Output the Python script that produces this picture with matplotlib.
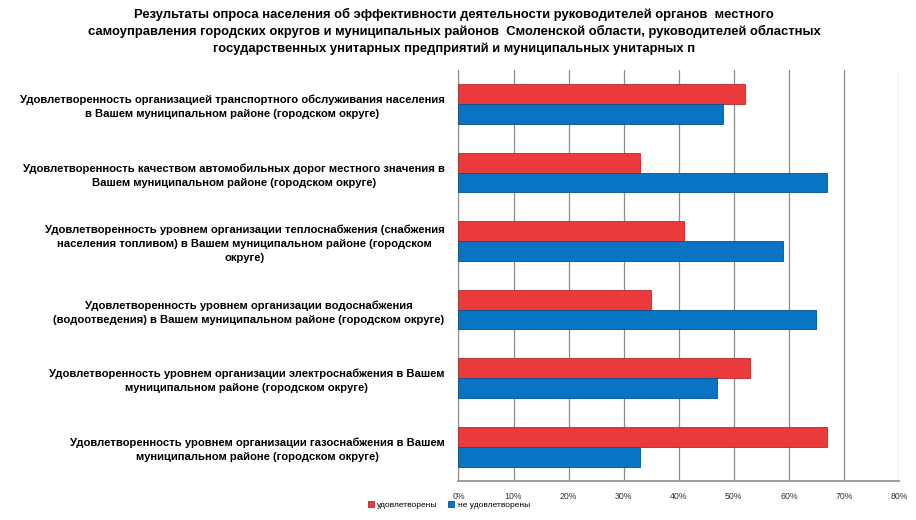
import numpy as np
import matplotlib.pyplot as plt

# Survey categories (top to bottom)
categories = [
    "Удовлетворенность организацией транспортного обслуживания населения\nв Вашем муниципальном районе (городском округе)",
    "Удовлетворенность качеством автомобильных дорог местного значения в\nВашем муниципальном районе (городском округе)",
    "Удовлетворенность уровнем организации теплоснабжения (снабжения\nнаселения топливом) в Вашем муниципальном районе (городском\nокруге)",
    "Удовлетворенность уровнем организации водоснабжения\n(водоотведения) в Вашем муниципальном районе (городском округе)",
    "Удовлетворенность уровнем организации электроснабжения в Вашем\nмуниципальном районе (городском округе)",
    "Удовлетворенность уровнем организации газоснабжения в Вашем\nмуниципальном районе (городском округе)",
]
satisfied = [52, 33, 41, 35, 53, 67]
not_satisfied = [48, 67, 59, 65, 47, 33]
series_names = ["удовлетворены", "не удовлетворены"]
x_ticks = [0, 10, 20, 30, 40, 50, 60, 70, 80]

title = ("Результаты опроса населения об эффективности деятельности руководителей органов  местного\n"
         "самоуправления городских округов и муниципальных районов  Смоленской области, руководителей областных\n"
         "государственных унитарных предприятий и муниципальных унитарных п")

plt.rcParams['font.family'] = ['Liberation Sans', 'DejaVu Sans']

fig = plt.figure(figsize=(9.16, 5.2), dpi=100)
ax = fig.add_axes([0.5005, 0.075, 0.4809, 0.791])

y = np.arange(len(categories))
h = 0.29
ax.barh(y - h / 2, satisfied, height=h, color='#EA3A3C', edgecolor='#B02A2C', linewidth=0.6,
        label=series_names[0], zorder=3)
ax.barh(y + h / 2, not_satisfied, height=h, color='#0A74C4', edgecolor='#06508A', linewidth=0.6,
        label=series_names[1], zorder=3)

ax.set_ylim(len(categories) - 0.5, -0.5)
ax.set_xlim(0, 80)
ax.set_xticks(x_ticks)
ax.set_xticklabels([f"{t}%" for t in x_ticks], fontsize=6.3, color='#333333')
ax.set_yticks(y)
ax.set_yticklabels(categories, fontsize=8.1, fontweight='bold')
for lab in ax.get_yticklabels():
    lab.set_multialignment('center')
    lab.set_linespacing(1.5)
ax.tick_params(axis='y', length=0, pad=10)
ax.tick_params(axis='x', length=0, pad=8)

ax.grid(axis='x', color='#8C8C8C', linewidth=0.9, zorder=0)
for s in ['top', 'right']:
    ax.spines[s].set_visible(False)
ax.spines['left'].set_color('#8C8C8C')
ax.spines['bottom'].set_color('#8C8C8C')
ax.spines['bottom'].set_linewidth(1.2)

fig.text(0.496, 0.985, title, ha='center', va='top', fontsize=9.4, fontweight='bold',
         linespacing=1.42)

fig.legend(loc='center', bbox_to_anchor=(0.49, 0.029), ncol=2, fontsize=6, frameon=False,
           handlelength=0.7, handleheight=0.7, handletextpad=0.45, columnspacing=1.2)

fig.savefig('out.png', dpi=100)
